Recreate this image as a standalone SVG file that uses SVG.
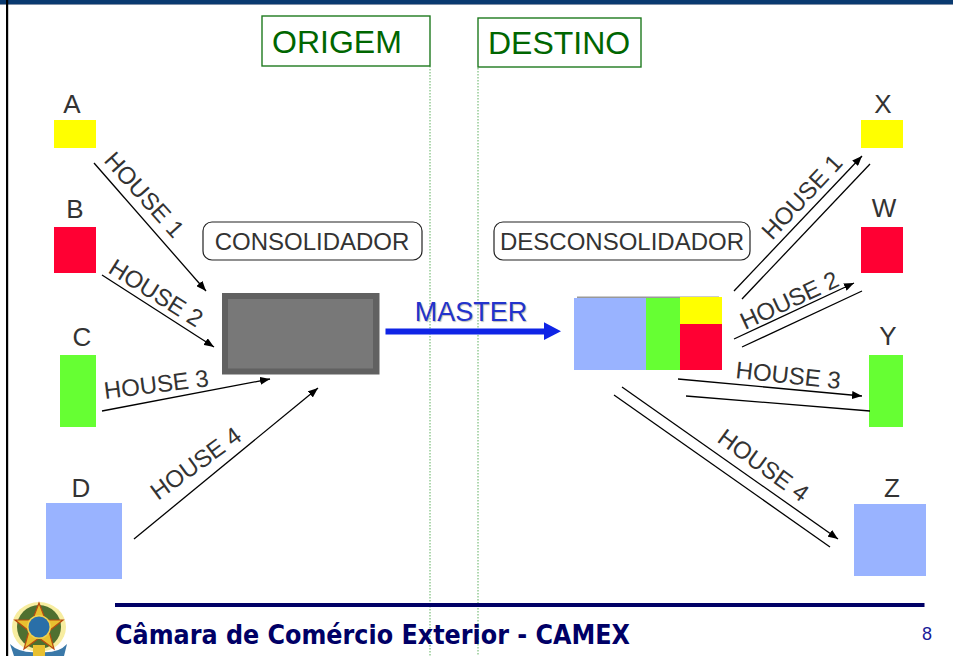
<svg xmlns="http://www.w3.org/2000/svg" width="953" height="656" viewBox="0 0 953 656">
<defs>
<marker id="ah" markerUnits="userSpaceOnUse" markerWidth="10" markerHeight="8" refX="10" refY="4" orient="auto"><path d="M0 0L10 4L0 8Z" fill="#000"/></marker>
</defs>
<style>
text{font-family:"Liberation Sans",Arial,sans-serif}
.l{font-size:26px;fill:#333}
.h{font-size:24px;fill:#333}
.c{font-size:24px;fill:#333}
.g{font-size:32px;fill:#006600}
.box{fill:#fff;stroke:#1f7a1f;stroke-width:1.4}
.rb{fill:#fff;stroke:#222;stroke-width:1.2}
.ln{fill:none;stroke:#000;stroke-width:1.3}
.a{marker-end:url(#ah)}
.v{stroke:#5fb05f;stroke-width:1;stroke-dasharray:1.5 1.5}
</style>
<rect width="953" height="656" fill="#fff"/>
<rect x="0" y="0" width="953" height="4" fill="#0a3a70"/><rect x="0" y="4" width="953" height="1" fill="#8090a8"/>
<rect x="6" y="0" width="2.200" height="656" fill="#000"/>
<g id="guides"><line class="v" x1="430" y1="66" x2="430" y2="656"/><line class="v" x1="478" y1="68" x2="478" y2="656"/></g>
<g id="origem"><rect class="box" x="262" y="16" width="168" height="50"/><text class="g" x="272" y="53">ORIGEM</text></g>
<g id="destino"><rect class="box" x="478" y="18" width="163" height="49"/><text class="g" x="488" y="54">DESTINO</text></g>
<g id="A"><text class="l" x="72" y="113" text-anchor="middle">A</text><rect x="54" y="120" width="42" height="28" fill="#ffff00"/></g>
<g id="B"><text class="l" x="75" y="218" text-anchor="middle">B</text><rect x="54" y="227" width="42" height="46" fill="#ff0033"/></g>
<g id="C"><text class="l" x="82" y="346" text-anchor="middle">C</text><rect x="60" y="355" width="36" height="72" fill="#66ff33"/></g>
<g id="D"><text class="l" x="81" y="497" text-anchor="middle">D</text><rect x="46" y="503" width="76" height="76" fill="#99b3ff"/></g>
<g id="X"><text class="l" x="883" y="113" text-anchor="middle">X</text><rect x="861" y="120" width="42" height="28" fill="#ffff00"/></g>
<g id="W"><text class="l" x="884" y="217" text-anchor="middle">W</text><rect x="861" y="227" width="42" height="46" fill="#ff0033"/></g>
<g id="Y"><text class="l" x="888" y="345" text-anchor="middle">Y</text><rect x="869" y="355" width="34" height="72" fill="#66ff33"/></g>
<g id="Z"><text class="l" x="892" y="497" text-anchor="middle">Z</text><rect x="854" y="504" width="72" height="72" fill="#99b3ff"/></g>
<g id="consolidador"><rect class="rb" x="203" y="222" width="219" height="38" rx="9"/><text class="c" x="312" y="250" text-anchor="middle">CONSOLIDADOR</text></g>
<g id="desconsolidador"><rect class="rb" x="494" y="222" width="256" height="38" rx="9"/><text class="c" x="622" y="250" text-anchor="middle">DESCONSOLIDADOR</text></g>
<g id="container"><rect x="222" y="293" width="157.500" height="81.500" fill="#616161"/><rect x="228" y="299" width="145" height="69.500" fill="#787878"/></g>
<g id="cargo"><rect x="577" y="296.500" width="142" height="1.500" fill="#999"/><rect x="574" y="298" width="72" height="72" fill="#99b3ff"/><rect x="646" y="298" width="34" height="72" fill="#66ff33"/><rect x="680" y="297" width="42" height="27" fill="#ffff00"/><rect x="680" y="324" width="42" height="46" fill="#ff0033"/></g>
<g id="connectors">
<line class="ln a" x1="94" y1="163" x2="206" y2="291"/>
<line class="ln a" x1="102" y1="275" x2="214" y2="347"/>
<line class="ln a" x1="102" y1="411" x2="270" y2="379"/>
<line class="ln a" x1="134" y1="539" x2="318" y2="388"/>
<line class="ln a" x1="734" y1="291" x2="862" y2="156"/>
<line class="ln" x1="742" y1="299" x2="870" y2="164"/>
<line class="ln a" x1="734" y1="339" x2="854" y2="283"/>
<line class="ln" x1="742" y1="347" x2="862" y2="291"/>
<line class="ln a" x1="678" y1="379" x2="862" y2="396"/>
<line class="ln" x1="686" y1="396" x2="870" y2="411"/>
<line class="ln a" x1="622" y1="387" x2="838" y2="539"/>
<line class="ln" x1="614" y1="395" x2="830" y2="547"/>
<path d="M385.500 328.500H544V322.300L561 331.300L544 340V334.500H385.500Z" fill="#0f24e6"/>
</g>
<g id="labels">
<text class="h" transform="translate(103 161) rotate(48)">HOUSE 1</text>
<text class="h" transform="translate(107 272) rotate(32)">HOUSE 2</text>
<text class="h" transform="translate(105 399) rotate(-7)">HOUSE 3</text>
<text class="h" transform="translate(158 501) rotate(-36)">HOUSE 4</text>
<text class="h" transform="translate(772 241) rotate(-47)">HOUSE 1</text>
<text class="h" transform="translate(745 330) rotate(-25)">HOUSE 2</text>
<text class="h" transform="translate(735 378) rotate(6)">HOUSE 3</text>
<text class="h" transform="translate(716 441) rotate(36)">HOUSE 4</text>
<text x="471" y="321" text-anchor="middle" font-size="27" fill="#2233cc" style="text-shadow:1px 1px 1px #bbb">MASTER</text>
</g>
<g id="footer">
<rect x="115" y="603" width="809.500" height="4" fill="#000066"/>
<text x="115" y="644" font-size="27" font-weight="bold" fill="#000066" style="font-family:'DejaVu Sans',sans-serif" textLength="515" lengthAdjust="spacingAndGlyphs">Câmara de Comércio Exterior - CAMEX</text>
<text x="927" y="640" font-size="18" text-anchor="middle" fill="#1a1a99">8</text>
</g>
<g id="seal">
<ellipse cx="39" cy="627" rx="27" ry="25" fill="#f7eda0"/>
<circle cx="39" cy="627" r="22" fill="#4f7030"/>
<path d="M39 603L45.500 620L63 620L49 631L54 649L39 638L24 649L29 631L15 620L32.500 620Z" fill="#e8c030" stroke="#b84a10" stroke-width="1.200"/>
<circle cx="39" cy="627" r="12" fill="#f0d050"/>
<circle cx="39" cy="627" r="10.500" fill="#2a6fa8"/>
<path d="M10 644Q20 654 39 652Q58 654 67 644L64 656H14Z" fill="#3a78a8"/>
<rect x="33" y="645" width="12" height="11" fill="#e8c030"/>
</g>
</svg>
